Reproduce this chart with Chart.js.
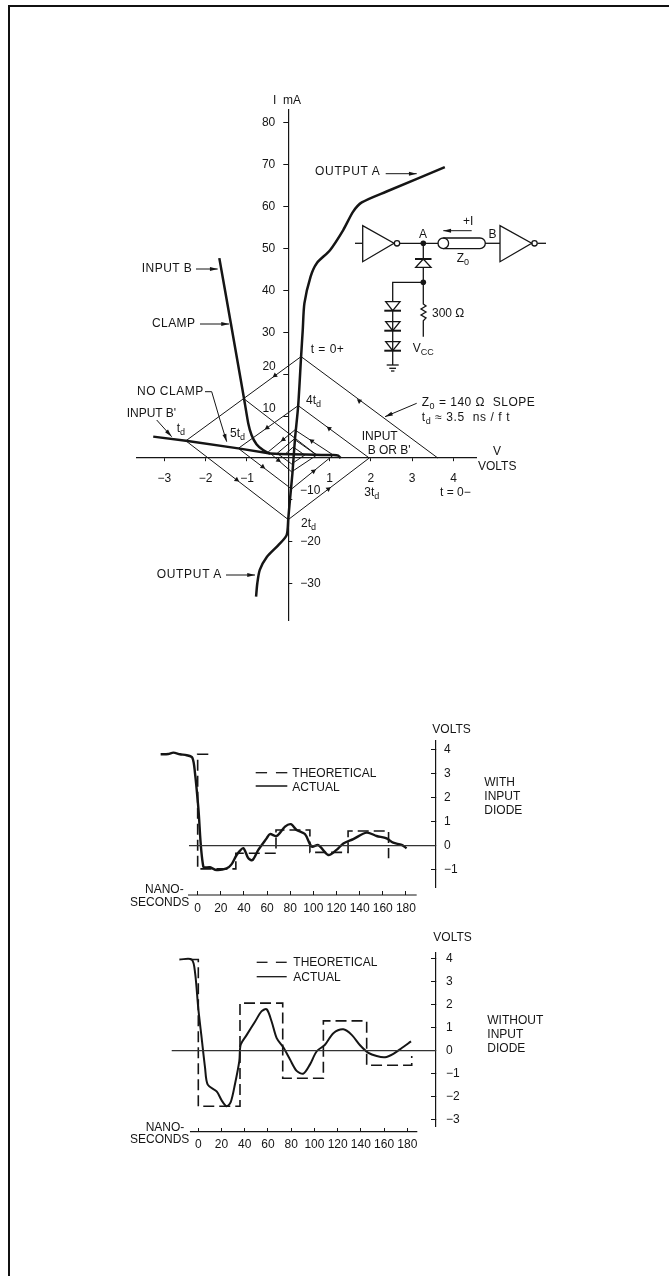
<!DOCTYPE html>
<html>
<head>
<meta charset="utf-8">
<title>Clamp load lines</title>
<script src="https://cdn.jsdelivr.net/npm/chart.js@4"></script>
<style>
    html, body { margin: 0; background: #fff; }
    #page { position: relative; width: 669px; height: 1276px; overflow: hidden; font-family: "Liberation Sans", sans-serif; color: #151515; }
    #frameTop { position: absolute; left: 8px; right: 0; top: 5px; height: 2px; background: #111; }
    #frameLeft { position: absolute; left: 8px; top: 5px; bottom: 0; width: 2px; background: #111; }
    canvas { position: absolute; left: 0; }
    .lbl { position: absolute; font-size: 12px; line-height: 14px; white-space: pre; transform: translateY(-50%); }
    .lbl sub { font-size: 9px; line-height: 0; }
</style>
</head>
<body>
<div id="page">
    <div id="frameTop"></div>
    <div id="frameLeft"></div>
    <canvas id="loadChart" width="669" height="680" style="top:0"></canvas>
    <canvas id="withDiode" width="669" height="220" style="top:700px"></canvas>
    <canvas id="withoutDiode" width="669" height="240" style="top:930px"></canvas>
</div>
<script>
// load line plot, volts / mA
const voltTicks = [-3, -2, -1, 1, 2, 3, 4];
const maTicksLeft = [80, 70, 60, 50, 40, 30, 20, 10];
const maTicksRight = [-10, -20, -30];
// these three sit off their tick in the original, they are placed with the other labels
const movedTickLabels = [20, 10, -10];

const outputAVolts = [3.79, 2.38, 1.78, 1.57, 1.33, 1.01, 0.69, 0.54, 0.39, 0.35, 0.31, 0.24, 0.16, 0.10, 0.04, 0, -0.04, -0.24, -0.52, -0.69, -0.75, -0.78];
const outputAmA = [69.4, 63.6, 61, 58.8, 54.4, 49.6, 46.5, 43.3, 36.9, 30.5, 24.2, 12.5, 4.3, -3.7, -10, -14.4, -18.4, -20.8, -23.6, -26.7, -29.9, -33.1];

const inputBVolts = [-1.67, -1.39, -1.15, -1.07, -0.97, -0.89, -0.77, -0.61, -0.44, 1.09, 1.21, 1.27];
const inputBmA = [47.7, 32.1, 18.6, 14.1, 8.3, 5.5, 3.3, 1.9, 1.1, 0.7, 0.55, 0];

const noClampVolts = [-3.27, -2.48, -1.21, -0.44];
const noClampmA = [5.1, 4.1, 2.3, 1.1];

const bounceVolts = [3.62, 0.31, -2.48, 0, 1.96, 0.24, -1.21, 0.08, 1.09, 0.16, -0.48, 0.08, 0.69, 0.14, -0.27, 0.08, 0.40, 0.12, -0.08];
const bouncemA = [0, 24.2, 4.1, -14.7, 0, 12.5, 2.3, -7.4, 0.7, 6.7, 1.5, -3.3, 0.7, 4.5, 1.1, -1.4, 0.7, 2.6, 0.9];

const clampBounceVolts = [-1.07, 0.69];
const clampBouncemA = [14.1, 0.7];

const arrowVolts = [-0.32, 1.72, -1.25, 0.97, 0.99, -0.51, -0.62, 0.61, 0.57, -0.12, -0.24];
const arrowmA = [19.7, 13.6, -5.2, -7.4, 7.05, 7.2, -2.1, -3.15, 4.05, 4.4, -0.56];
const arrowTurn = [-126, -54, 126, 54, -54, -126, 126, 54, -54, -126, 126];

// pulse plots, nanoseconds / volts
const nsTicks = [0, 20, 40, 60, 80, 100, 120, 140, 160, 180];
const diodeVoltTicks = [4, 3, 2, 1, 0, -1];
const noDiodeVoltTicks = [4, 3, 2, 1, 0, -1, -2, -3];

const diodeTheoryNs = [9.2, 0, 0, 33, 33, 67.7, 67.7, 97, 97, 130, 130, 165, 165];
const diodeTheoryV = [3.8, 3.8, -0.97, -0.97, -0.32, -0.32, 0.65, 0.65, -0.28, -0.28, 0.61, 0.61, -0.53];
const diodeActualNs = [-32, -25.4, -21, -15.3, -9.5, -4.6, -2.3, 0.5, 4.9, 10.6, 16.4, 25, 29.4, 33.7, 39.4, 43.8, 47.5, 52.4, 59.6, 62.5, 68.3, 75.5, 80.6, 85.5, 92.7, 98.5, 104.3, 112.9, 120, 125.9, 134.5, 146, 154.7, 163.3, 169, 176.3, 180.6];
const diodeActualV = [3.8, 3.81, 3.87, 3.8, 3.76, 3.66, 3.01, 1.62, -0.88, -0.9, -1.02, -0.95, -0.77, -0.39, -0.11, -0.53, -0.6, -0.18, 0.3, 0.48, 0.4, 0.79, 0.89, 0.65, 0.48, -0.04, 0.02, -0.39, -0.18, 0.09, 0.27, 0.54, 0.4, 0.3, 0.12, 0.03, -0.11];

const noDiodeTheoryNs = [-7.1, 0, 0, 35.9, 35.9, 72.7, 72.7, 107.7, 107.7, 145, 145, 183.8, 183.8];
const noDiodeTheoryV = [3.95, 3.95, -2.42, -2.42, 2.06, 2.06, -1.2, -1.2, 1.29, 1.29, -0.64, -0.64, -0.24];
const noDiodeActualNs = [-16.3, -5.7, -2.8, 0, 2.9, 5.8, 8.1, 15.8, 20.1, 24.4, 27.9, 31.6, 35.3, 36.5, 41.7, 48.8, 54.6, 58.9, 63.2, 67.5, 73.2, 79, 84.7, 90.5, 96.2, 102, 109.1, 116.3, 124.9, 132.1, 139.3, 146.5, 153.6, 160.8, 168, 175.2, 183.2];
const noDiodeActualV = [3.95, 3.95, 3.38, 1.82, 0.54, -0.74, -1.48, -1.77, -2.16, -2.42, -2.24, -1.45, -0.46, 0.25, 0.68, 1.25, 1.71, 1.79, 1.25, 0.54, 0.14, -0.39, -0.88, -1, -0.6, -0.03, 0.25, 0.75, 0.92, 0.68, 0.23, -0.1, -0.24, -0.29, -0.14, 0.11, 0.4];

const INK = '#151515';
const tickFont = { family: '"Liberation Sans", sans-serif', size: 12 };

// text, left, vertical centre, letter spacing
const labels = [
    ['I  mA', 273, 100], ['OUTPUT A', 315, 171, 0.7], ['INPUT B', 141.7, 268, 0.5], ['CLAMP', 152, 323, 0.4],
    ['t = 0+', 310.7, 348.7, 0.5], ['NO CLAMP', 137, 390.7, 0.5], ["INPUT B'", 126.7, 413.3], ['t<sub>d</sub>', 176.7, 428],
    ['20', 262.4, 366], ['10', 262.4, 407.5], ['−10', 300, 490],
    ['5t<sub>d</sub>', 230, 432.7], ['4t<sub>d</sub>', 306, 400], ['Z<sub>0</sub> = 140 Ω  SLOPE', 421.7, 402.3, 0.5],
    ['t<sub>d</sub> ≈ 3.5  ns / f t', 421.7, 417.3, 0.6], ['INPUT', 361.7, 436], ["B OR B'", 367.7, 450], ['V', 493, 450.7],
    ['VOLTS', 478, 466], ['3t<sub>d</sub>', 364.3, 491.7], ['t = 0−', 440, 491.7], ['2t<sub>d</sub>', 301, 522.7],
    ['OUTPUT A', 156.7, 574.3, 0.7], ['A', 419, 234], ['B', 488.5, 234], ['+I', 463, 221], ['Z<sub>0</sub>', 456.7, 258.3],
    ['300 Ω', 432, 312.7], ['V<sub>CC</sub>', 412.7, 348],
    ['VOLTS', 432.3, 729], ['THEORETICAL', 292.3, 772.7], ['ACTUAL', 292.3, 786.7], ['WITH', 484.3, 782.3],
    ['INPUT', 484.3, 796], ['DIODE', 484.3, 810], ['NANO-', 145, 889], ['SECONDS', 130, 902.3],
    ['VOLTS', 433.3, 936.7], ['THEORETICAL', 293.3, 961.7], ['ACTUAL', 293.3, 977.3], ['WITHOUT', 487.3, 1020],
    ['INPUT', 487.3, 1034], ['DIODE', 487.3, 1047.7], ['NANO-', 145.7, 1126.7], ['SECONDS', 130, 1138.7]
];

const page = document.getElementById('page');
labels.forEach(l => {
    const span = document.createElement('span');
    span.className = 'lbl';
    span.innerHTML = l[0];
    span.style.left = l[1] + 'px';
    span.style.top = l[2] + 'px';
    if (l[3]) span.style.letterSpacing = l[3] + 'px';
    page.appendChild(span);
});

function points(xs, ys) {
    return xs.map((x, i) => ({ x: x, y: ys[i] }));
}

function lineSet(xs, ys, width, extra) {
    return Object.assign({
        data: points(xs, ys),
        showLine: true,
        borderColor: INK,
        borderWidth: width,
        pointRadius: 0,
        tension: 0,
        clip: false
    }, extra || {});
}

function minusSign(value) {
    return String(value).replace('-', '−');
}

function maLabel(value) {
    return movedTickLabels.includes(value) ? '' : minusSign(value);
}

function fixedTicks(list) {
    return function(scale) {
        scale.ticks = list.map(v => ({ value: v }));
    };
}

function leader(ctx, x1, y1, x2, y2) {
    const a = Math.atan2(y2 - y1, x2 - x1);
    ctx.beginPath();
    ctx.moveTo(x1, y1);
    ctx.lineTo(x2, y2);
    ctx.stroke();
    ctx.beginPath();
    ctx.moveTo(x2, y2);
    ctx.lineTo(x2 - 8 * Math.cos(a - 0.25), y2 - 8 * Math.sin(a - 0.25));
    ctx.lineTo(x2 - 8 * Math.cos(a + 0.25), y2 - 8 * Math.sin(a + 0.25));
    ctx.closePath();
    ctx.fill();
}

function poly(ctx, pts, close) {
    ctx.beginPath();
    pts.forEach((p, i) => i ? ctx.lineTo(p[0], p[1]) : ctx.moveTo(p[0], p[1]));
    if (close) ctx.closePath();
    ctx.stroke();
}

function dot(ctx, x, y, r, filled) {
    ctx.beginPath();
    ctx.arc(x, y, r, 0, Math.PI * 2);
    if (filled) ctx.fill(); else ctx.stroke();
}

// the mA axes cross at V = 0, so their boxes are moved there once the layout is done
const crossingAxes = {
    id: 'crossingAxes',
    afterLayout(chart) {
        const zero = chart.scales.x.getPixelForValue(0);
        chart.scales.y.left = zero - 40;
        chart.scales.y.right = zero;
        chart.scales.yNeg.left = zero;
        chart.scales.yNeg.right = zero + 40;
    }
};

const circuitPlugin = {
    id: 'circuit',
    afterDraw(chart) {
        const ctx = chart.ctx;
        ctx.save();
        ctx.strokeStyle = INK;
        ctx.fillStyle = INK;
        ctx.lineWidth = 1;

        // label pointers
        leader(ctx, 385.7, 173.7, 416.7, 173.7);
        leader(ctx, 196, 269, 217.7, 269);
        leader(ctx, 200, 324, 229, 324);
        leader(ctx, 226, 575, 255, 575);
        leader(ctx, 156.7, 420, 171.7, 436.7);
        leader(ctx, 416.7, 403.3, 385, 416.7);
        leader(ctx, 471.7, 230.7, 443.3, 230.7);
        poly(ctx, [[205, 391.7], [211.7, 391.7], [220, 420]]);
        leader(ctx, 220, 420, 226.7, 441.7);

        // inverters and line
        ctx.lineWidth = 1.3;
        poly(ctx, [[362.7, 225.7], [362.7, 261.7], [394, 243.3]], true);
        poly(ctx, [[500, 225.7], [500, 261.7], [531.7, 243.3]], true);
        dot(ctx, 397, 243.3, 2.7);
        dot(ctx, 534.5, 243.3, 2.7);
        poly(ctx, [[355, 243.3], [362.7, 243.3]]);
        poly(ctx, [[400, 243.3], [438.3, 243.3]]);
        poly(ctx, [[485, 243.3], [500, 243.3]]);
        poly(ctx, [[537.5, 243.3], [546, 243.3]]);
        dot(ctx, 423.3, 243.3, 2.8, true);
        dot(ctx, 443.3, 243.3, 5.3);
        ctx.beginPath();
        ctx.moveTo(443.3, 238);
        ctx.lineTo(480, 238);
        ctx.arc(480, 243.3, 5.3, -Math.PI / 2, Math.PI / 2);
        ctx.lineTo(443.3, 248.6);
        ctx.stroke();

        // clamp diode and resistor leg
        poly(ctx, [[423.3, 243.3], [423.3, 259]]);
        ctx.lineWidth = 2;
        poly(ctx, [[415, 259], [431.5, 259]]);
        ctx.lineWidth = 1.3;
        poly(ctx, [[423.3, 259], [415.7, 267.3], [431, 267.3]], true);
        poly(ctx, [[423.3, 267.3], [423.3, 282.3], [392.7, 282.3], [392.7, 301.7]]);
        dot(ctx, 423.3, 282.3, 2.8, true);
        poly(ctx, [[423.3, 282.3], [423.3, 304], [426, 306], [421, 309], [426, 312], [421, 315], [426, 318], [423.3, 320.7], [423.3, 336.7]]);

        // diode stack and ground
        [0, 20, 40].forEach(dy => {
            poly(ctx, [[385.7, 301.7 + dy], [400, 301.7 + dy], [392.7, 310.7 + dy]], true);
            ctx.lineWidth = 2;
            poly(ctx, [[384.3, 310.7 + dy], [401, 310.7 + dy]]);
            ctx.lineWidth = 1.3;
        });
        poly(ctx, [[392.7, 310.7], [392.7, 365]]);
        poly(ctx, [[386.7, 365], [398.7, 365]]);
        poly(ctx, [[389.3, 368.3], [396, 368.3]]);
        poly(ctx, [[391, 371], [394.4, 371]]);
        ctx.restore();
    }
};

function legendPlugin(x1, x2, yDash, ySolid) {
    return {
        id: 'pulseLegend',
        afterDraw(chart) {
            const ctx = chart.ctx;
            const third = (x2 - x1) * 0.36;
            ctx.save();
            ctx.strokeStyle = INK;
            ctx.lineWidth = 1.3;
            poly(ctx, [[x1, yDash], [x1 + third, yDash]]);
            poly(ctx, [[x2 - third, yDash], [x2, yDash]]);
            poly(ctx, [[x1, ySolid], [x2, ySolid]]);
            ctx.restore();
        }
    };
}

new Chart(document.getElementById('loadChart'), {
    type: 'scatter',
    data: {
        datasets: [
            lineSet(bounceVolts, bouncemA, 1),
            lineSet(clampBounceVolts, clampBouncemA, 1),
            lineSet(outputAVolts, outputAmA, 2.5, { tension: 0.25 }),
            lineSet(inputBVolts, inputBmA, 2.5, { tension: 0.15 }),
            lineSet(noClampVolts, noClampmA, 2.5),
            {
                data: points(arrowVolts, arrowmA),
                showLine: false,
                pointStyle: 'triangle',
                pointRadius: 3,
                rotation: arrowTurn,
                backgroundColor: INK,
                borderColor: INK,
                borderWidth: 0
            }
        ]
    },
    options: {
        responsive: false,
        animation: false,
        layout: { padding: { left: 137, right: 193, top: 110, bottom: 60 } },
        plugins: { legend: { display: false }, tooltip: { enabled: false } },
        scales: {
            x: {
                type: 'linear',
                min: -3.663,
                max: 4.545,
                position: { y: 0 },
                afterBuildTicks: fixedTicks(voltTicks),
                afterFit(s) { s.height = 0; },
                grid: { drawOnChartArea: false, color: INK, tickLength: 3 },
                border: { color: INK, width: 1.2 },
                ticks: { autoSkip: false, maxRotation: 0, minRotation: 0, padding: 10, color: INK, font: tickFont, callback: minusSign }
            },
            y: {
                type: 'linear',
                min: -38.66,
                max: 83.05,
                position: 'left',
                afterBuildTicks: fixedTicks(maTicksLeft),
                afterFit(s) { s.width = 0; },
                grid: { drawOnChartArea: false, color: INK, tickLength: 5 },
                border: { color: INK, width: 1.2 },
                ticks: { autoSkip: false, padding: 8, color: INK, font: tickFont, callback: maLabel }
            },
            yNeg: {
                axis: 'y',
                type: 'linear',
                min: -38.66,
                max: 83.05,
                position: 'right',
                afterBuildTicks: fixedTicks(maTicksRight),
                afterFit(s) { s.width = 0; },
                grid: { drawOnChartArea: false, color: INK, tickLength: 4 },
                border: { display: false },
                ticks: { autoSkip: false, padding: 8, color: INK, font: tickFont, callback: maLabel }
            }
        }
    },
    plugins: [crossingAxes, circuitPlugin]
});

function pulseChart(id, cfg) {
    new Chart(document.getElementById(id), {
        type: 'scatter',
        data: {
            datasets: [
                lineSet([cfg.zeroFrom, cfg.xMax], [0, 0], 1.3, { borderColor: '#333' }),
                lineSet(cfg.baseX, [cfg.axisAt, cfg.axisAt], 1.2),
                lineSet(cfg.theoryX, cfg.theoryY, 1.6, { borderDash: [11, 5] }),
                lineSet(cfg.actualX, cfg.actualY, cfg.actualWidth, { tension: 0.3 })
            ]
        },
        options: {
            responsive: false,
            animation: false,
            layout: { padding: cfg.padding },
            plugins: { legend: { display: false }, tooltip: { enabled: false } },
            scales: {
                x: {
                    type: 'linear',
                    min: cfg.xMin,
                    max: cfg.xMax,
                    position: { y: cfg.axisAt },
                    afterBuildTicks: fixedTicks(nsTicks),
                    afterFit(s) { s.height = 0; },
                    grid: { drawOnChartArea: false, color: INK, tickLength: -4 },
                    border: { display: false },
                    ticks: { autoSkip: false, maxRotation: 0, minRotation: 0, padding: 10, color: INK, font: tickFont }
                },
                y: {
                    type: 'linear',
                    min: cfg.yMin,
                    max: cfg.yMax,
                    position: 'right',
                    afterBuildTicks: fixedTicks(cfg.yTicks),
                    afterFit(s) { s.width = 40; },
                    grid: { drawOnChartArea: false, color: INK, tickLength: -5 },
                    border: { color: INK, width: 1.2 },
                    ticks: { autoSkip: false, padding: cfg.labelPad, color: INK, font: tickFont, callback: minusSign }
                }
            }
        },
        plugins: [legendPlugin(cfg.legend[0], cfg.legend[1], cfg.legend[2], cfg.legend[3])]
    });
}

pulseChart('withDiode', {
    xMin: -41.2, xMax: 206, yMin: -1.752, yMax: 4.365, axisAt: -2.056,
    zeroFrom: -7.5, baseX: [-8.4, 189.3],
    yTicks: diodeVoltTicks, labelPad: 13,
    theoryX: diodeTheoryNs, theoryY: diodeTheoryV,
    actualX: diodeActualNs, actualY: diodeActualV, actualWidth: 2.4,
    padding: { left: 150, right: 193, top: 40.7, bottom: 32.3 },
    legend: [255.7, 287.3, 72.7, 86]
});

pulseChart('withoutDiode', {
    xMin: -41.6, xMax: 204.7, yMin: -3.274, yMax: 4.268, axisAt: -3.517,
    zeroFrom: -22.9, baseX: [-7.2, 188.6],
    yTicks: noDiodeVoltTicks, labelPad: 15,
    theoryX: noDiodeTheoryNs, theoryY: noDiodeTheoryV,
    actualX: noDiodeActualNs, actualY: noDiodeActualV, actualWidth: 2,
    padding: { left: 150, right: 193, top: 19.3, bottom: 44 },
    legend: [256.7, 286.7, 32.3, 46.7]
});
</script>
</body>
</html>
